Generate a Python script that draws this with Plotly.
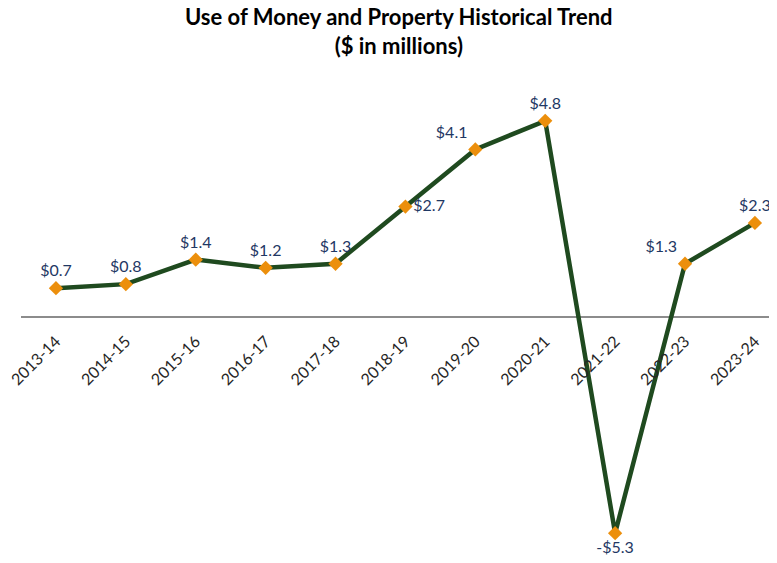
import plotly.graph_objects as go

years = ["2013-14", "2014-15", "2015-16", "2016-17", "2017-18", "2018-19",
         "2019-20", "2020-21", "2021-22", "2022-23", "2023-24"]
values = [0.7, 0.8, 1.4, 1.2, 1.3, 2.7, 4.1, 4.8, -5.3, 1.3, 2.3]
labels = ["$0.7", "$0.8", "$1.4", "$1.2", "$1.3", "$2.7", "$4.1", "$4.8", "-$5.3", "$1.3", "$2.3"]
label_pos = ["top center", "top center", "top center", "top center", "top center",
             "middle right", "top left", "top center", "bottom center", "top left", "top center"]

y_min, y_max = -6.03, 5.80

fig = go.Figure()
fig.add_trace(go.Scatter(
    x=years, y=values, mode="lines+markers+text",
    line=dict(color="#1f4a1f", width=4.5),
    marker=dict(symbol="diamond", size=11, color="#ec8f0c", line=dict(width=0)),
    text=labels, textposition=label_pos,
    textfont=dict(family="Lato", size=16, color="#1f3864"),
    cliponaxis=False, hoverinfo="skip",
))

fig.add_annotation(
    text="<b>Use of Money and Property Historical Trend<br>($ in millions)</b>",
    xref="paper", yref="paper", x=0.5, y=1 + 49 / 483, xanchor="center", yanchor="middle",
    showarrow=False, font=dict(family="Lato", size=22, color="black"),
)

fig.update_layout(
    width=769, height=555,
    margin=dict(l=13, r=0, t=72, b=0, autoexpand=False),
    paper_bgcolor="white", plot_bgcolor="white",
    showlegend=False,
    xaxis=dict(type="category", range=[-0.5, 10.316], showgrid=False, zeroline=False,
               showline=False, ticks="outside", ticklen=8, tickcolor="rgba(0,0,0,0)",
               tickangle=-45, automargin=False,
               tickfont=dict(family="Lato", size=16, color="#262626"),
               anchor="free", position=(0 - y_min) / (y_max - y_min)),
    yaxis=dict(range=[y_min, y_max], showgrid=False, showticklabels=False, automargin=False,
               zeroline=True, zerolinecolor="#8c8c8c", zerolinewidth=1.5),
)

fig.write_html("out.html")
